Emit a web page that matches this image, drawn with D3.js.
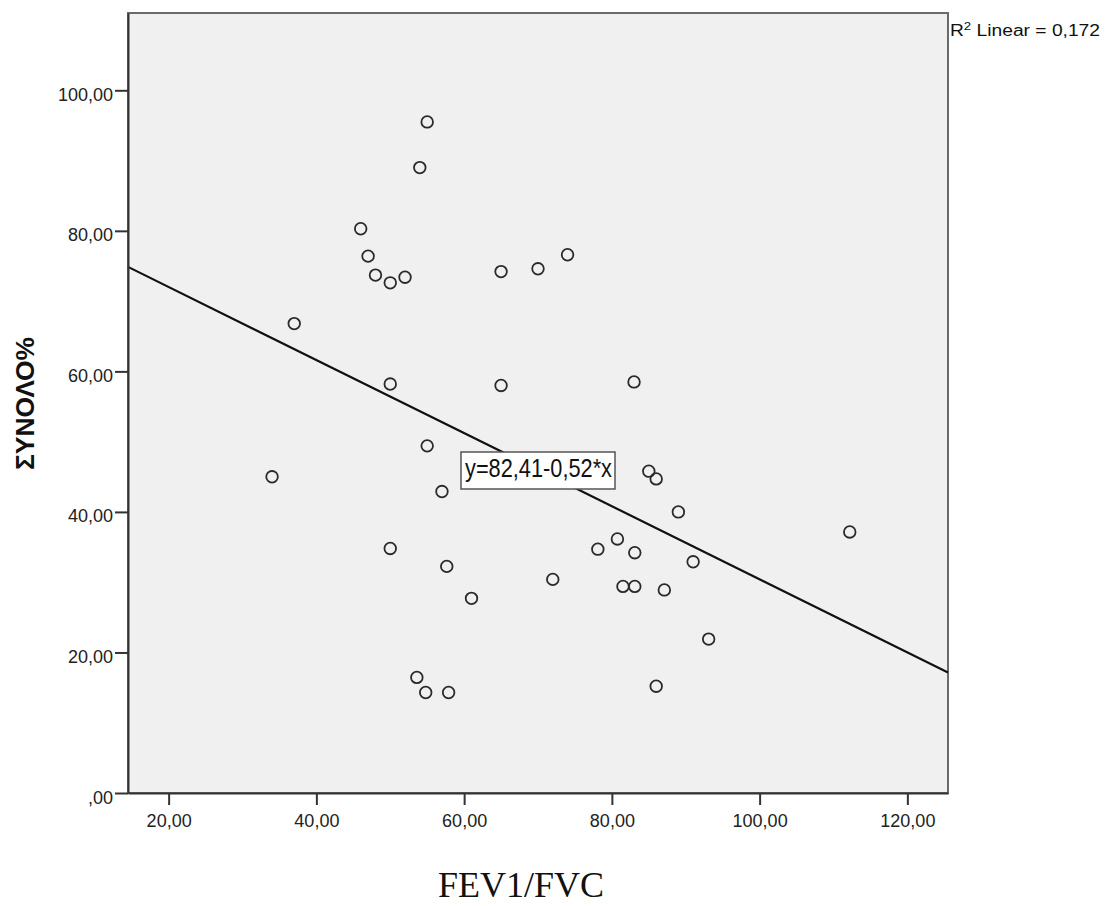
<!DOCTYPE html>
<html>
<head>
<meta charset="utf-8">
<script src="https://cdn.jsdelivr.net/npm/d3@7"></script>
<style>
  html, body { margin: 0; padding: 0; background: #ffffff; }
  svg { display: block; }
</style>
</head>
<body>
<svg id="chart" width="1105" height="906"></svg>
<script>
// ---- data ----
const fev1fvc = [55, 54, 46, 47, 48, 50, 52, 65, 70, 74, 37, 50, 65, 83, 55, 34, 57, 85, 86, 89, 112.2, 80.75, 78.1, 83.1, 50, 57.65, 91, 72, 81.5, 83.1, 87.1, 61, 93.1, 53.6, 54.8, 57.9, 86];
const synolo  = [95.5, 89.0, 80.3, 76.4, 73.7, 72.6, 73.4, 74.2, 74.6, 76.6, 66.8, 58.2, 58.0, 58.5, 49.4, 45.0, 42.9, 45.8, 44.7, 40.0, 37.15, 36.15, 34.7, 34.2, 34.8, 32.25, 32.9, 30.4, 29.4, 29.4, 28.9, 27.7, 21.9, 16.45, 14.3, 14.3, 15.2];
const xTicks = [20, 40, 60, 80, 100, 120];
const yTicks = [0, 20, 40, 60, 80, 100];
const fitIntercept = 82.41;
const fitSlope = -0.52;
const fitLabel = "y=82,41-0,52*x";
const r2Label = "0,172";
const xTitle = "FEV1/FVC";
const yTitle = "ΣΥΝΟΛΟ%";

// ---- layout ----
const svg = d3.select("#chart");
const L = 128, R = 948, T = 13, B = 793;
const x = d3.scaleLinear().domain([14.5, 125.5]).range([L, R]);
const y = d3.scaleLinear().domain([0, 111]).range([B, T]);

const loc = d3.formatLocale({decimal: ",", thousands: ".", grouping: [3], currency: ["", ""]});
const f2 = loc.format(".2f");
const fmt = v => { const s = f2(v); return s.startsWith("0,") ? s.slice(1) : s; };

// plot background + frame
svg.append("rect")
  .attr("x", L).attr("y", T).attr("width", R - L).attr("height", B - T)
  .attr("fill", "#f0f0f0").attr("stroke", "#6a6a6a").attr("stroke-width", 2);

const points = fev1fvc.map((v, i) => ({x: v, y: synolo[i]}));

// regression line
const lineGen = d3.line().x(d => x(d[0])).y(d => y(d[1]));
const dom = x.domain();
svg.append("path")
  .datum(dom.map(v => [v, fitIntercept + fitSlope * v]))
  .attr("d", lineGen)
  .attr("fill", "none").attr("stroke", "#111").attr("stroke-width", 2.2);

// points
svg.append("g").selectAll("circle").data(points).join("circle")
  .attr("cx", d => x(d.x)).attr("cy", d => y(d.y)).attr("r", 5.8)
  .attr("fill", "none").attr("stroke", "#2a2a2a").attr("stroke-width", 1.8);

// axes
const xAxis = d3.axisBottom(x).tickValues(xTicks).tickFormat(fmt).tickSize(12).tickSizeOuter(0).tickPadding(9);
const yAxis = d3.axisLeft(y).tickValues(yTicks).tickFormat(fmt).tickSize(13).tickSizeOuter(0).tickPadding(2);

const gx = svg.append("g").attr("transform", `translate(0,${B})`).call(xAxis);
const gy = svg.append("g").attr("transform", `translate(${L},0)`).call(yAxis);
[gx, gy].forEach(g => {
  g.select(".domain").attr("stroke", "#333").attr("stroke-width", 2);
  g.selectAll(".tick line").attr("stroke", "#333").attr("stroke-width", 2);
  g.selectAll(".tick text").attr("fill", "#222")
    .style("font-family", "'Liberation Sans', Arial, sans-serif").style("font-size", "18px");
});
gy.selectAll(".tick text").attr("dy", "10px");

// fit label box
const lab = svg.append("g").attr("transform", `translate(461,452)`);
lab.append("rect").attr("width", 154).attr("height", 37)
  .attr("fill", "#ffffff").attr("stroke", "#555").attr("stroke-width", 1.5);
lab.append("text").attr("x", 4).attr("y", 25)
  .attr("textLength", 147).attr("lengthAdjust", "spacingAndGlyphs")
  .style("font-family", "'Liberation Sans', Arial, sans-serif").style("font-size", "25px")
  .attr("fill", "#111").text(fitLabel);

// R2 label
const r2 = svg.append("text").attr("x", 950).attr("y", 36)
  .attr("textLength", 150).attr("lengthAdjust", "spacingAndGlyphs")
  .style("font-family", "'Liberation Sans', Arial, sans-serif").style("font-size", "16px")
  .attr("fill", "#111");
r2.append("tspan").text("R");
r2.append("tspan").attr("dy", -6).style("font-size", "11px").text("2");
r2.append("tspan").attr("dy", 6).text(" Linear = " + r2Label);

// axis titles
svg.append("text")
  .attr("transform", "translate(34,403.5) rotate(-90)")
  .attr("text-anchor", "middle")
  .attr("textLength", 133).attr("lengthAdjust", "spacingAndGlyphs")
  .style("font-family", "'Liberation Sans', Arial, sans-serif").style("font-size", "25px").style("font-weight", "bold")
  .attr("fill", "#111").text(yTitle);

svg.append("text")
  .attr("x", 521).attr("y", 897).attr("text-anchor", "middle")
  .style("font-family", "'Liberation Serif', 'Times New Roman', serif").style("font-size", "36px")
  .attr("fill", "#111").text(xTitle);
</script>
</body>
</html>
